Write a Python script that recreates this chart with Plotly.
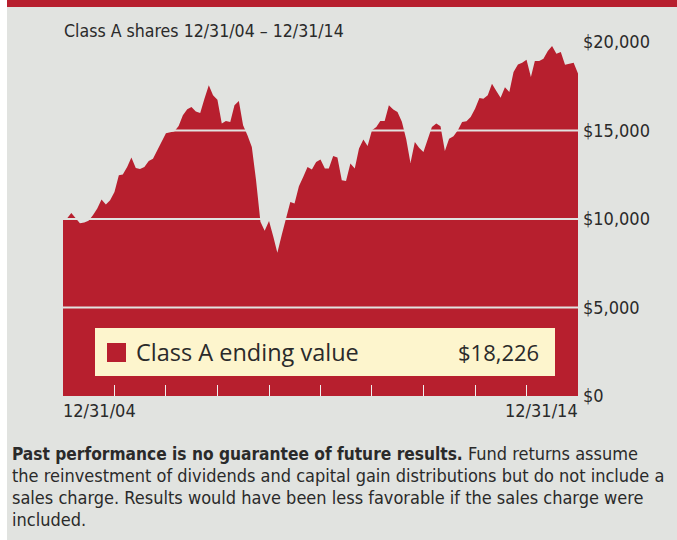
import pandas as pd
import plotly.graph_objects as go

# Month-end value of a $10,000 investment in Class A shares
dates = pd.date_range("2004-12-31", "2014-12-31", freq="ME")
values = [
    10000, 10050, 10340, 10040, 9760, 9800, 9900, 10210, 10590, 11100,
    10820, 11060, 11530, 12470, 12510, 12940, 13470, 12880, 12830, 12940,
    13280, 13410, 13900, 14450, 14850, 14900, 14950, 15250, 15860, 16200,
    16330, 16080, 15990, 16800, 17550, 16990, 16740, 15390, 15540, 15480,
    16420, 16660, 15290, 14730, 14070, 12190, 9840, 9330, 9890, 8990,
    8090, 9100, 10000, 10960, 10870, 11850, 12380, 12940, 12790, 13220,
    13360, 12850, 12850, 13560, 13470, 12190, 12150, 13130, 12850, 13980,
    14490, 14130, 15010, 15200, 15540, 15540, 16420, 16180, 16050, 15500,
    14500, 13170, 14350, 14030, 13790, 14540, 15200, 15390, 15240, 13840,
    14540, 14670, 15010, 15480, 15520, 15760, 16230, 16830, 16800, 16990,
    17640, 17230, 16850, 17450, 17170, 18300, 18730, 18830, 19000, 18020,
    18930, 18930, 19060, 19490, 19770, 19340, 19430, 18720, 18780, 18830,
    18226,
]

y_ticks = [0, 5000, 10000, 15000, 20000]
y_tick_text = ["$0", "$5,000", "$10,000", "$15,000", "$20,000"]
year_ticks = pd.date_range("2005-12-31", "2013-12-31", freq="YE")
start_label = "12/31/04"
end_label = "12/31/14"
series_name = "Class A ending value"
ending_value = values[-1]
title_text = "Class A shares 12/31/04 \u2013 12/31/14"
footnote_lines = [
    "<span style='font-size:17.2px'><b>Past performance is no guarantee of future results.</b></span>"
    " Fund returns assume",
    "the reinvestment of dividends and capital gain distributions but do not include a",
    "sales charge. Results would have been less favorable if the sales charge were",
    "included.",
]

RED = "#b71f2e"
BG = "#e1e3e0"
CREAM = "#fdf5cd"
TEXT = "#2a2a2a"
NARROW = "Liberation Sans Narrow, DejaVu Sans Condensed, Arial Narrow, sans-serif"
WIDE = "Open Sans, Noto Sans, sans-serif"

W, H = 677, 540
ML, MR, MT, MB = 63, 99, 42, 144
PW, PH = W - ML - MR, H - MT - MB


def fx(px):
    return (px - ML) / PW


def fy(py):
    return (H - MB - py) / PH


fig = go.Figure()
fig.add_trace(go.Scatter(
    x=dates, y=values, mode="lines", fill="tozeroy",
    line=dict(width=0, color=RED), fillcolor=RED,
    name=series_name, showlegend=False, hoverinfo="skip",
))

shapes = []
# left white strip and top red rule of the panel
shapes.append(dict(type="rect", xref="paper", yref="paper", x0=fx(0), x1=fx(7),
                   y0=fy(H), y1=fy(0), fillcolor="white", line=dict(width=0), layer="above"))
shapes.append(dict(type="rect", xref="paper", yref="paper", x0=fx(7), x1=fx(W),
                   y0=fy(7), y1=fy(0), fillcolor=RED, line=dict(width=0), layer="above"))
# value gridlines knocked out of the area
for v in y_ticks[1:-1]:
    shapes.append(dict(type="line", xref="paper", yref="y", x0=0, x1=1, y0=v, y1=v,
                       line=dict(color=BG, width=2), layer="above"))
# ending-value key box
shapes.append(dict(type="rect", xref="paper", yref="paper", x0=fx(95), x1=fx(555),
                   y0=fy(376), y1=fy(328), fillcolor=CREAM, line=dict(width=0), layer="above"))
shapes.append(dict(type="rect", xref="paper", yref="paper", x0=fx(107), x1=fx(126),
                   y0=fy(362), y1=fy(343), fillcolor=RED, line=dict(width=0), layer="above"))

annotations = [
    dict(text=title_text, xref="paper", yref="paper", x=fx(62), y=fy(31),
         xanchor="left", yanchor="middle", showarrow=False,
         font=dict(family=NARROW, size=17.6, color=TEXT)),
    dict(text=series_name, xref="paper", yref="paper", x=fx(134), y=fy(352),
         xanchor="left", yanchor="middle", showarrow=False,
         font=dict(family=WIDE, size=23.5, color=TEXT)),
    dict(text=f"${ending_value:,}", xref="paper", yref="paper", x=fx(541), y=fy(352),
         xanchor="right", yanchor="middle", showarrow=False,
         font=dict(family=WIDE, size=22, color=TEXT)),
    dict(text=start_label, xref="x", yref="paper", x=dates[0], y=fy(411),
         xanchor="left", yanchor="middle", showarrow=False, xshift=-2,
         font=dict(family=NARROW, size=18, color=TEXT)),
    dict(text=end_label, xref="x", yref="paper", x=dates[-1], y=fy(411),
         xanchor="right", yanchor="middle", showarrow=False, xshift=2,
         font=dict(family=NARROW, size=18, color=TEXT)),
]
# footnote, one line per annotation for tight leading
for i, line in enumerate(footnote_lines):
    annotations.append(dict(
        text=line, xref="paper", yref="paper", x=fx(10), y=fy(453 + 22 * i),
        xanchor="left", yanchor="middle", align="left", showarrow=False,
        font=dict(family=NARROW, size=18, color=TEXT),
    ))

fig.update_layout(
    width=W, height=H,
    margin=dict(l=ML, r=MR, t=MT, b=MB),
    paper_bgcolor=BG, plot_bgcolor=BG,
    shapes=shapes, annotations=annotations,
    showlegend=False,
    xaxis=dict(
        range=[dates[0], dates[-1]], showgrid=False, zeroline=False,
        tickmode="array", tickvals=year_ticks, showticklabels=False,
        ticks="inside", ticklen=11, tickwidth=1, tickcolor="#f0f0f0",
        showline=False, fixedrange=True,
    ),
    yaxis=dict(
        range=[0, 20000], side="right", showgrid=False, zeroline=False,
        tickmode="array", tickvals=y_ticks, ticktext=y_tick_text,
        ticks="", ticklabelstandoff=4, showline=False,
        tickfont=dict(family=NARROW, size=18, color=TEXT), fixedrange=True,
    ),
)

fig.write_html("out.html")
